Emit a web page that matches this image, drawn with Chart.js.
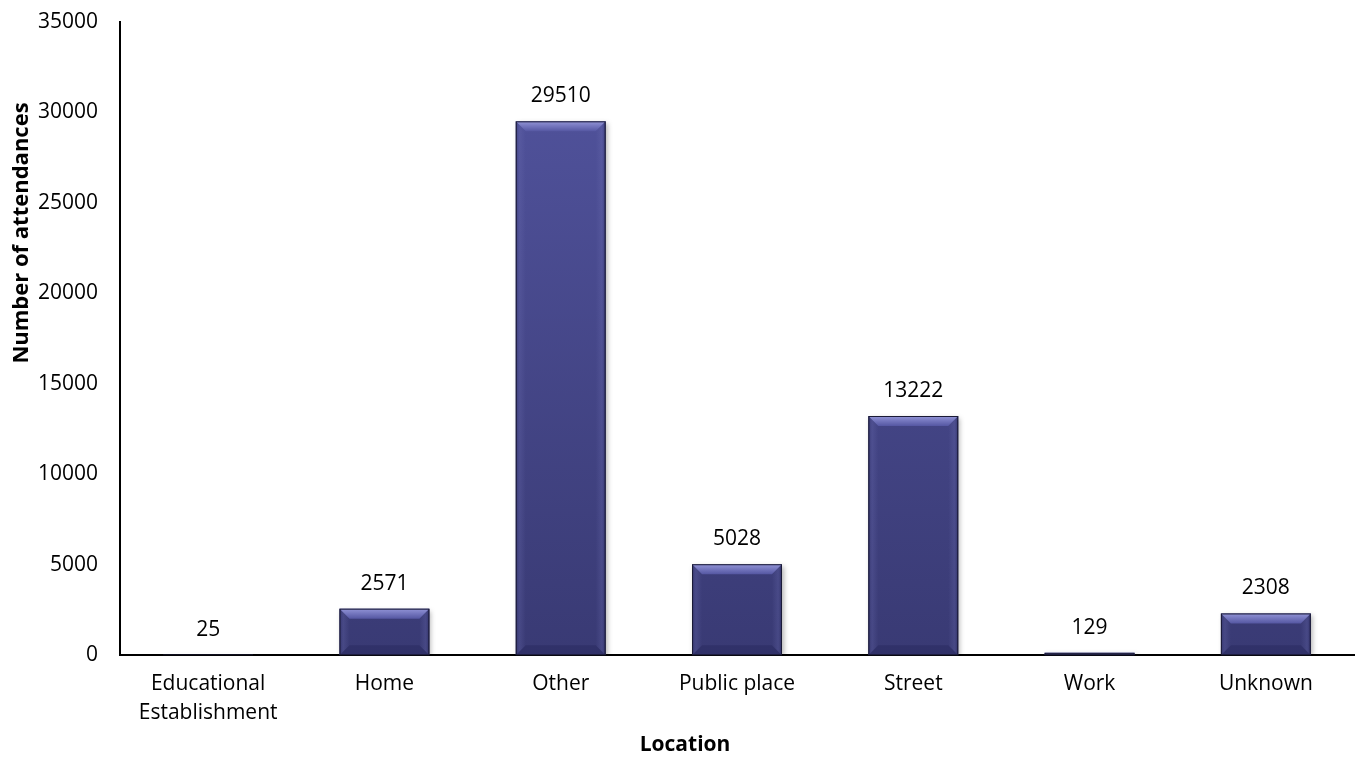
<!DOCTYPE html>
<html>
<head>
<meta charset="utf-8">
<script src="https://cdn.jsdelivr.net/npm/chart.js@4"></script>
<style>
  html, body { margin: 0; padding: 0; background: #fff; }
  #wrap { width: 1357px; height: 758px; }
</style>
</head>
<body>
<div id="wrap"><canvas id="chart"></canvas></div>
<script>
// === Data ===
const locations = [["Educational", "Establishment"], "Home", "Other", "Public place", "Street", "Work", "Unknown"];
const attendances = [25, 2571, 29510, 5028, 13222, 129, 2308];
const yTicks = [0, 5000, 10000, 15000, 20000, 25000, 30000, 35000];
const xTitle = 'Location';
const yTitle = 'Number of attendances';

const FONT = "'Open Sans', 'Liberation Sans', sans-serif";

// === Bevel plugin: shades the edges of each bar like a raised button ===
const bevelBars = {
  id: 'bevelBars',
  afterDatasetsDraw(chart) {
    const ctx = chart.ctx;
    chart.getDatasetMeta(0).data.forEach(bar => {
      const l = bar.x - bar.width / 2, r = bar.x + bar.width / 2;
      const t = bar.y, b = bar.base;
      const h = b - t;
      if (h < 1) return;
      const s = Math.min(10, h / 2);
      ctx.save();
      // top edge
      const gTop = ctx.createLinearGradient(0, t, 0, t + s);
      gTop.addColorStop(0, '#9294d6');
      gTop.addColorStop(0.5, '#7375bd');
      gTop.addColorStop(1, '#5557a2');
      ctx.fillStyle = gTop;
      ctx.beginPath();
      ctx.moveTo(l, t); ctx.lineTo(r, t); ctx.lineTo(r - s, t + s); ctx.lineTo(l + s, t + s);
      ctx.closePath(); ctx.fill();
      // left edge
      const gL = ctx.createLinearGradient(l, 0, l + s, 0);
      gL.addColorStop(0, 'rgba(40,40,95,0.45)');
      gL.addColorStop(0.4, 'rgba(110,112,180,0.25)');
      gL.addColorStop(1, 'rgba(110,112,180,0)');
      ctx.fillStyle = gL;
      ctx.beginPath();
      ctx.moveTo(l, t); ctx.lineTo(l + s, t + s); ctx.lineTo(l + s, b - s); ctx.lineTo(l, b);
      ctx.closePath(); ctx.fill();
      // right edge
      const gR = ctx.createLinearGradient(r - s, 0, r, 0);
      gR.addColorStop(0, 'rgba(110,112,180,0)');
      gR.addColorStop(0.6, 'rgba(110,112,180,0.25)');
      gR.addColorStop(1, 'rgba(30,30,80,0.5)');
      ctx.fillStyle = gR;
      ctx.beginPath();
      ctx.moveTo(r, t); ctx.lineTo(r - s, t + s); ctx.lineTo(r - s, b - s); ctx.lineTo(r, b);
      ctx.closePath(); ctx.fill();
      // bottom edge
      ctx.fillStyle = 'rgba(30,30,80,0.3)';
      ctx.beginPath();
      ctx.moveTo(l, b); ctx.lineTo(l + s, b - s); ctx.lineTo(r - s, b - s); ctx.lineTo(r, b);
      ctx.closePath(); ctx.fill();
      // outline
      ctx.strokeStyle = '#1a1a35';
      ctx.lineWidth = 1;
      ctx.strokeRect(l + 0.5, t + 0.5, r - l - 1, h - 1);
      ctx.restore();
    });
  }
};

// === Value labels above the bars ===
const valueLabels = {
  id: 'valueLabels',
  afterDatasetsDraw(chart) {
    const ctx = chart.ctx;
    const ds = chart.data.datasets[0];
    ctx.save();
    ctx.font = `21px ${FONT}`;
    ctx.fillStyle = '#000';
    ctx.textAlign = 'center';
    ctx.textBaseline = 'middle';
    chart.getDatasetMeta(0).data.forEach((bar, i) => {
      ctx.fillText(String(ds.data[i]), bar.x, bar.y - 25);
    });
    ctx.restore();
  }
};

// soft drop shadow behind the bars
const barShadow = {
  id: 'barShadow',
  beforeDatasetsDraw(chart) {
    const ctx = chart.ctx;
    ctx.save();
    ctx.shadowColor = 'rgba(0,0,0,0.3)';
    ctx.shadowBlur = 5;
    ctx.shadowOffsetX = 2;
    ctx.shadowOffsetY = 2;
  },
  afterDatasetsDraw(chart) {
    chart.ctx.restore();
  }
};

// axis titles sit off-centre, so they are placed by hand
const axisTitles = {
  id: 'axisTitles',
  afterDraw(chart) {
    const ctx = chart.ctx;
    ctx.save();
    ctx.fillStyle = '#000';
    ctx.font = `bold 21px ${FONT}`;
    ctx.textAlign = 'center';
    ctx.textBaseline = 'middle';
    ctx.fillText(xTitle, 685, 745);
    ctx.font = `bold 22px ${FONT}`;
    ctx.translate(22, 233);
    ctx.rotate(-Math.PI / 2);
    ctx.fillText(yTitle, 0, 0);
    ctx.restore();
  }
};

new Chart(document.getElementById('chart').getContext('2d'), {
  type: 'bar',
  data: {
    labels: locations,
    datasets: [{
      label: yTitle,
      data: attendances,
      backgroundColor: (c) => {
        const area = c.chart.chartArea;
        if (!area) return '#4a4c92';
        const g = c.chart.ctx.createLinearGradient(0, area.top, 0, area.bottom);
        g.addColorStop(0, '#5355a0');
        g.addColorStop(1, '#393a74');
        return g;
      },
      borderWidth: 0,
      categoryPercentage: 1,
      barPercentage: 0.51
    }]
  },
  options: {
    responsive: true,
    maintainAspectRatio: false,
    animation: false,
    layout: { padding: { top: 22, right: 3, bottom: 16, left: 0 } },
    plugins: {
      legend: { display: false },
      tooltip: { enabled: false }
    },
    scales: {
      x: {
        grid: { display: false, drawTicks: false },
        border: { display: true, color: '#000', width: 2 },
        ticks: { color: '#000', font: { family: FONT, size: 21, lineHeight: 1.4 }, padding: 14, maxRotation: 0, autoSkip: false }
      },
      y: {
        min: 0,
        max: 35000,
        afterBuildTicks: (scale) => { scale.ticks = yTicks.map(v => ({ value: v })); },
        afterFit: (scale) => {
          scale.width = 120;
          scale.paddingTop = 0;
          scale.paddingBottom = 0;
        },
        grid: { display: false, drawTicks: false },
        border: { display: true, color: '#000', width: 2 },
        ticks: { color: '#000', font: { family: FONT, size: 21 }, padding: 22, callback: v => String(v) }
      }
    }
  },
  plugins: [barShadow, bevelBars, valueLabels, axisTitles]
});
</script>
</body>
</html>
